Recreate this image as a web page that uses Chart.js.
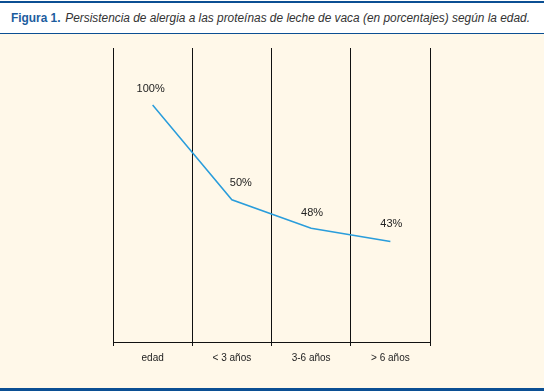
<!DOCTYPE html>
<html>
<head>
<meta charset="utf-8">
<script src="https://cdn.jsdelivr.net/npm/chart.js@4"></script>
<style>
    body { margin: 0; width: 544px; height: 391px; overflow: hidden; background: #fff; font-family: "Liberation Sans", sans-serif; }
    #top { height: 2px; background: #0b4f93; margin-top: 1px; }
    #title { height: 30px; line-height: 30px; padding-left: 11px; font-size: 12.5px; color: #333; white-space: nowrap; }
    #title span { display: inline-block; transform: scaleX(0.95); transform-origin: left center; }
    #title b { color: #1b5c9e; }
    #title i { margin-left: 5px; }
    #sep { height: 1px; background: #0b4f93; }
    #area { position: relative; height: 354px; background: #fff8e9; }
    #bottom { height: 4px; background: #0b4f93; }
</style>
</head>
<body>
<div id="top"></div>
<div id="title"><span><b>Figura 1.</b><i>Persistencia de alergia a las proteínas de leche de vaca (en porcentajes) según la edad.</i></span></div>
<div id="sep"></div>
<div id="area"><canvas id="chart" width="544" height="353"></canvas></div>
<div id="bottom"></div>
<script>
    const categories = ["edad", "< 3 años", "3-6 años", "> 6 años"];
    // percentages printed above each point
    const percentLabels = ["100%", "50%", "48%", "43%"];
    // height at which each point is drawn in the figure
    const plotted = [100, 50, 35, 28];

    const pointLabels = {
        id: "pointLabels",
        afterDatasetsDraw(chart) {
            const ctx = chart.ctx;
            const meta = chart.getDatasetMeta(0);
            const shift = [[-2, -16], [9, -17], [1, -15], [1, -18]];
            ctx.save();
            ctx.font = "11px 'Liberation Sans', sans-serif";
            ctx.fillStyle = "#222";
            ctx.textAlign = "center";
            ctx.textBaseline = "middle";
            meta.data.forEach((pt, i) => {
                ctx.fillText(percentLabels[i], pt.x + shift[i][0], pt.y + shift[i][1]);
            });
            ctx.restore();
        }
    };

    new Chart(document.getElementById("chart"), {
        type: "line",
        data: {
            labels: categories,
            datasets: [{
                data: plotted,
                borderColor: "#2a9ddb",
                borderWidth: 1.5,
                pointRadius: 0,
                tension: 0,
                fill: false
            }]
        },
        options: {
            responsive: false,
            animation: false,
            layout: { padding: { left: 113, right: 114, top: 14, bottom: 0 } },
            plugins: { legend: { display: false }, tooltip: { enabled: false } },
            scales: {
                x: {
                    offset: true,
                    grid: { offset: true, color: "#111", lineWidth: 1, tickLength: 4, drawOnChartArea: true },
                    border: { color: "#111", width: 1 },
                    ticks: { color: "#222", padding: 6, font: { family: "'Liberation Sans', sans-serif", size: 10 } },
                    afterFit: (scale) => { scale.height = 45; }
                },
                y: {
                    display: false,
                    min: -25,
                    max: 130
                }
            }
        },
        plugins: [pointLabels]
    });
</script>
</body>
</html>
